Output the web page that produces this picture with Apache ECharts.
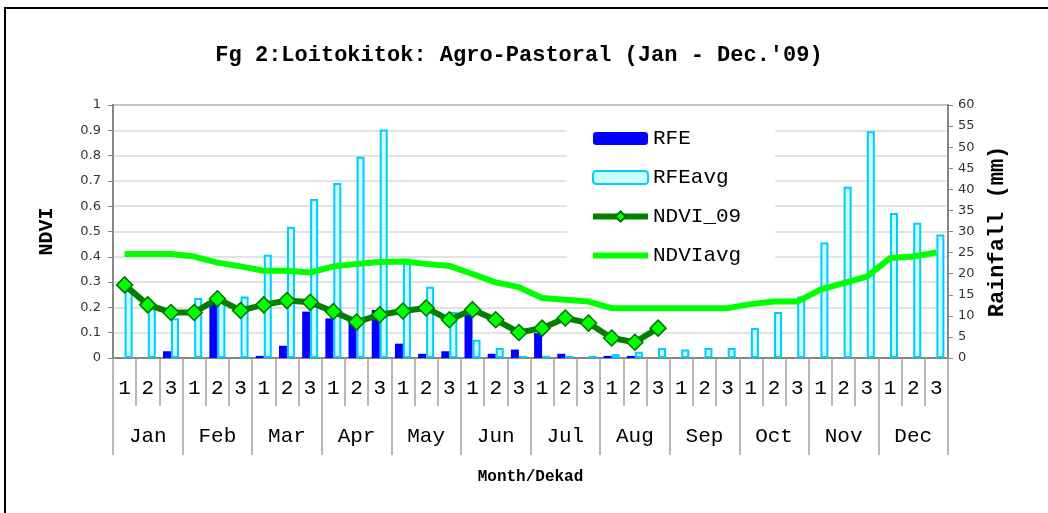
<!DOCTYPE html>
<html>
<head>
<meta charset="utf-8">
<title>Loitokitok NDVI / Rainfall</title>
<script src="https://cdn.jsdelivr.net/npm/echarts@6/dist/echarts.min.js"></script>
<style>
  html, body { margin: 0; padding: 0; background: #fff; }
  #chart { width: 1048px; height: 513px; }
</style>
</head>
<body>
<div id="chart"></div>
<script>
"use strict";

var months = ['Jan', 'Feb', 'Mar', 'Apr', 'May', 'Jun', 'Jul', 'Aug', 'Sep', 'Oct', 'Nov', 'Dec'];
var dekads = ['1', '2', '3'];

// rainfall, mm (right axis)
var rfe = [0, 0, 1.6, 0, 13, 0, 0.5, 2.9, 11.0, 9.4, 8.7, 11.4,
           3.4, 1.0, 1.6, 11.0, 1.0, 2.0, 5.9, 1.0, 0, 0.5, 0.5, 0,
           0, 0, 0, 0, 0, 0, 0, 0, 0, 0, 0, 0];
var rfeAvg = [16.1, 12.2, 9.4, 14.2, 14.0, 14.6, 24.5, 31.1, 37.7, 41.5, 47.7, 54.2,
              23.6, 16.9, 10.9, 4.3, 2.4, 0.5, 0.5, 0.5, 0.5, 0.9, 1.5, 2.4,
              2.0, 2.4, 2.4, 7.1, 10.9, 14.6, 27.4, 40.6, 53.8, 34.4, 32.1, 29.3];

// NDVI (left axis)
var ndvi09 = [0.289, 0.210, 0.180, 0.180, 0.234, 0.188, 0.210, 0.227, 0.220, 0.184, 0.142, 0.171,
              0.186, 0.198, 0.151, 0.191, 0.151, 0.101, 0.118, 0.158, 0.138, 0.079, 0.062, 0.118,
              null, null, null, null, null, null, null, null, null, null, null, null];
var ndviAvg = [0.411, 0.411, 0.411, 0.401, 0.377, 0.362, 0.345, 0.345, 0.338, 0.362, 0.372, 0.379,
               0.381, 0.372, 0.364, 0.332, 0.299, 0.280, 0.237, 0.230, 0.223, 0.197, 0.197, 0.197,
               0.197, 0.197, 0.197, 0.213, 0.223, 0.223, 0.270, 0.296, 0.322, 0.395, 0.401, 0.417];

var dekadLabels = [];
months.forEach(function () {
  dekads.forEach(function (d) { dekadLabels.push(d); });
});

var mono = 'Liberation Mono, Courier New, monospace';
var sans = 'DejaVu Sans, Verdana, sans-serif';
var axisGray = '#868686';

var chart = echarts.init(document.getElementById('chart'));

var option = {
  backgroundColor: '#fff',
  animation: false,
  title: {
    text: "Fg 2:Loitokitok: Agro-Pastoral (Jan - Dec.'09)",
    left: 514,
    top: 39,
    textAlign: 'center',
    textStyle: { fontFamily: mono, fontSize: 22, fontWeight: 'bold', color: '#000' }
  },
  graphic: [
    {
      type: 'rect', z: -10, silent: true,
      shape: { x: 5, y: 8, width: 1100, height: 600 },
      style: { fill: 'none', stroke: '#000', lineWidth: 2 }
    }
  ],
  legend: {
    orient: 'vertical',
    left: 567,
    top: 113,
    padding: [15, 34, 10, 23],
    backgroundColor: '#fff',
    itemWidth: 55,
    itemHeight: 13,
    itemGap: 18,
    textStyle: { fontFamily: mono, fontSize: 21, color: '#000' },
    data: [
      'RFE',
      'RFEavg',
      { name: 'NDVI_09', lineStyle: { width: 6 } },
      { name: 'NDVIavg', icon: 'path://M0,0 L55,0 L55,6 L0,6 Z', symbolKeepAspect: true }
    ]
  },
  grid: { left: 113, right: 100, top: 105, bottom: 155, show: true, borderColor: axisGray, borderWidth: 2, backgroundColor: 'transparent' },
  xAxis: [
    {
      type: 'category',
      data: dekadLabels,
      boundaryGap: true,
      axisLine: { lineStyle: { color: axisGray, width: 2 } },
      axisTick: { show: true, interval: 0, length: 48, lineStyle: { color: '#a0a0a0', width: 1.5 } },
      axisLabel: { interval: 0, margin: 20, fontFamily: mono, fontSize: 21, color: '#000' },
      splitLine: { show: false }
    },
    {
      type: 'category',
      data: months,
      position: 'bottom',
      boundaryGap: true,
      axisLine: { show: true, lineStyle: { color: axisGray, width: 2 } },
      axisTick: { show: true, interval: 0, length: 97, lineStyle: { color: '#a0a0a0', width: 1.5 } },
      axisLabel: { interval: 0, margin: 68, fontFamily: mono, fontSize: 21, color: '#000' },
      splitLine: { show: false },
      name: 'Month/Dekad',
      nameLocation: 'middle',
      nameGap: 111,
      nameTextStyle: { fontFamily: mono, fontSize: 16, fontWeight: 'bold', color: '#000' }
    }
  ],
  yAxis: [
    {
      type: 'value',
      min: 0,
      max: 1,
      interval: 0.1,
      name: 'NDVI',
      nameLocation: 'middle',
      nameRotate: 90,
      nameGap: 56,
      nameTextStyle: { fontFamily: mono, fontSize: 20, fontWeight: 'bold', color: '#000' },
      axisLine: { show: true, lineStyle: { color: axisGray, width: 2 } },
      axisTick: { show: true, length: 5, lineStyle: { color: axisGray } },
      axisLabel: {
        margin: 12, fontFamily: sans, fontSize: 13, color: '#333',
        formatter: function (v) { return (v === 0 || v === 1) ? String(v) : v.toFixed(1); }
      },
      splitLine: { lineStyle: { color: '#d9d9d9', width: 1.5 } }
    },
    {
      type: 'value',
      min: 0,
      max: 60,
      interval: 5,
      position: 'right',
      name: 'Rainfall (mm)',
      nameLocation: 'middle',
      nameRotate: 90,
      nameGap: 38,
      nameTextStyle: { fontFamily: mono, fontSize: 22, fontWeight: 'bold', color: '#000' },
      axisLine: { show: true, lineStyle: { color: axisGray, width: 2 } },
      axisTick: { show: true, length: 5, lineStyle: { color: axisGray } },
      axisLabel: { margin: 10, fontFamily: sans, fontSize: 13, color: '#333' },
      splitLine: { show: false }
    }
  ],
  series: [
    {
      name: 'RFE',
      type: 'bar',
      xAxisIndex: 0,
      yAxisIndex: 1,
      barWidth: 8,
      barGap: '0%',
      itemStyle: { color: '#0000ff' },
      data: rfe
    },
    {
      name: 'RFEavg',
      type: 'bar',
      xAxisIndex: 0,
      yAxisIndex: 1,
      barWidth: 8,
      barGap: '0%',
      itemStyle: { color: '#ccffff', borderColor: '#00ccff', borderWidth: 2 },
      data: rfeAvg
    },
    {
      name: 'NDVI_09',
      type: 'line',
      xAxisIndex: 0,
      yAxisIndex: 0,
      symbol: 'diamond',
      symbolSize: 16,
      z: 5,
      lineStyle: { color: '#008000', width: 6 },
      itemStyle: { color: '#00ff00', borderColor: '#007000', borderWidth: 1.5 },
      data: ndvi09
    },
    {
      name: 'NDVIavg',
      type: 'line',
      xAxisIndex: 0,
      yAxisIndex: 0,
      symbol: 'none',
      z: 4,
      lineStyle: { color: '#00ff00', width: 6 },
      itemStyle: { color: '#00ff00' },
      data: ndviAvg
    }
  ]
};

chart.setOption(option);
</script>
</body>
</html>
